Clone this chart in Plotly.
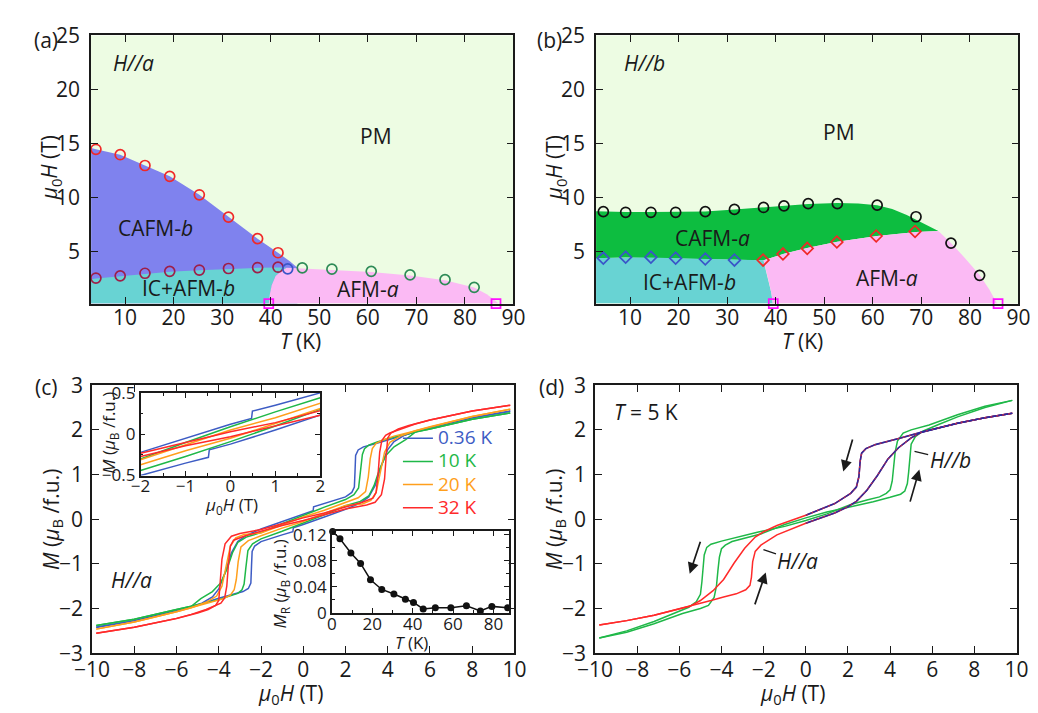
import numpy as np
import plotly.graph_objects as go

W, HGT = 1038, 713
FONT = "Open Sans"
INK = "#1a1a1a"

# ---------------- Panel (a): H//a phase diagram ----------------
a_red_T = [4.0, 9.0, 14.1, 19.2, 25.3, 31.3, 37.3, 41.5]
a_red_H = [14.47, 13.97, 12.97, 11.97, 10.26, 8.2, 6.2, 4.9]
a_low_T = [4.0, 9.0, 14.1, 19.2, 25.3, 31.3, 37.3, 41.5]
a_low_H = [2.56, 2.76, 3.0, 3.18, 3.3, 3.44, 3.53, 3.56]
a_blue_T = [43.5]
a_blue_H = [3.41]
a_green_T = [46.5, 52.6, 60.7, 68.7, 75.9, 81.9]
a_green_H = [3.5, 3.38, 3.18, 2.85, 2.41, 1.7]
a_sq_T = [39.6, 86.4]
a_sq_H = [0.2, 0.2]
# phase boundaries (a)
a_upper_T = [3.0, 4.0, 9.0, 14.1, 19.2, 25.3, 31.3, 37.3, 41.5, 44.0, 45.5]
a_upper_H = [14.6, 14.47, 13.97, 12.97, 11.97, 10.26, 8.2, 6.2, 4.9, 4.1, 3.52]
a_lower_T = [3.0, 4.0, 9.0, 14.1, 19.2, 25.3, 31.3, 37.3, 41.5, 43.3]
a_lower_H = [2.45, 2.52, 2.72, 2.95, 3.13, 3.27, 3.4, 3.5, 3.54, 3.5]
a_afmL_T = [39.6, 39.8, 40.2, 41.0, 42.2, 43.3]
a_afmL_H = [0.2, 1.0, 1.9, 2.75, 3.2, 3.5]
a_afmT_T = [43.3, 46.5, 52.6, 60.7, 68.7, 75.9, 81.9, 84.5, 86.0, 86.9]
a_afmT_H = [3.5, 3.45, 3.33, 3.12, 2.8, 2.35, 1.68, 1.05, 0.55, 0.2]

# ---------------- Panel (b): H//b phase diagram ----------------
b_blk_T = [4.5, 9.1, 14.3, 19.4, 25.5, 31.5, 37.5, 41.7, 46.7, 52.7, 60.9, 68.9, 76.1, 82.0]
b_blk_H = [8.7, 8.64, 8.64, 8.64, 8.7, 8.91, 9.09, 9.24, 9.44, 9.44, 9.3, 8.23, 5.79, 2.81]
b_bdia_T = [4.5, 9.1, 14.3, 19.4, 25.5, 31.5]
b_bdia_H = [4.4, 4.49, 4.49, 4.4, 4.32, 4.22]
b_rdia_T = [37.4, 41.5, 46.5, 52.6, 60.7, 68.7]
b_rdia_H = [4.22, 4.79, 5.3, 5.89, 6.45, 6.87]
b_sq_T = [39.5, 85.8]
b_sq_H = [0.2, 0.2]
# phase boundaries (b)
b_top_T = [3.0, 4.5, 9.1, 14.3, 19.4, 25.5, 31.5, 37.5, 41.7, 46.7, 52.7, 57.0, 60.9, 64.0, 67.0, 70.0, 73.5]
b_top_H = [8.74, 8.72, 8.68, 8.66, 8.66, 8.72, 8.9, 9.08, 9.22, 9.42, 9.5, 9.45, 9.3, 8.95, 8.4, 7.7, 6.9]
b_mid_T = [3.0, 4.5, 9.1, 14.3, 19.4, 25.5, 31.5, 37.5, 41.7, 46.7, 52.7, 60.9, 68.9, 73.5]
b_mid_H = [4.42, 4.42, 4.45, 4.45, 4.38, 4.3, 4.25, 4.2, 4.8, 5.35, 5.92, 6.45, 6.82, 6.9]
b_afmL_T = [37.5, 38.0, 38.6, 39.1, 39.4]
b_afmL_H = [4.2, 3.2, 2.2, 1.2, 0.2]
b_afmR_T = [73.5, 76.1, 79.0, 82.0, 84.0, 85.6]
b_afmR_H = [6.9, 5.8, 4.4, 2.85, 1.5, 0.2]

# ---------------- Panel (c): M(H), H//a ----------------
c_temps = ["0.36 K", "10 K", "20 K", "32 K"]
c_H_up = {
    "0.36 K": [-9.8, -8, -6, -5.3, -4.8, -4.3, -4.0, -3.7, -3.4, -3.1, -2.7, -2.0, -1.0, 0.0, 0.47, 0.49, 1.0, 2.0, 2.3, 2.42, 2.45, 2.48, 2.6, 2.85, 3.4, 4.0, 5.0, 6.0, 8.0, 9.8],
    "10 K": [-9.8, -8, -6, -5.3, -4.85, -4.3, -3.9, -3.6, -3.35, -3.1, -2.7, -2.0, -1.0, 0.0, 1.0, 2.0, 2.4, 2.62, 2.72, 2.8, 2.9, 3.1, 3.5, 4.0, 5.3, 6.0, 8.0, 9.8],
    "20 K": [-9.8, -8, -6, -5.3, -4.6, -4.1, -3.85, -3.65, -3.45, -3.2, -2.8, -2.0, -1.0, 0.0, 1.0, 2.0, 2.6, 2.95, 3.08, 3.17, 3.27, 3.45, 3.8, 4.3, 5.3, 6.0, 8.0, 9.8],
    "32 K": [-9.8, -8, -6, -5.0, -4.5, -4.15, -4.0, -3.93, -3.85, -3.7, -3.4, -3.0, -2.0, -1.0, 0.0, 1.0, 2.0, 2.8, 3.3, 3.45, 3.55, 3.62, 3.72, 3.9, 4.1, 4.6, 5.3, 6.0, 8.0, 9.8],
}
c_M_up = {
    "0.36 K": [-2.42, -2.27, -2.05, -1.96, -1.88, -1.74, -1.56, -1.2, -0.75, -0.5, -0.36, -0.22, -0.05, 0.12, 0.19, 0.28, 0.35, 0.50, 0.60, 0.72, 1.05, 1.43, 1.55, 1.62, 1.69, 1.77, 1.92, 2.05, 2.27, 2.42],
    "10 K": [-2.38, -2.24, -2.02, -1.95, -1.78, -1.62, -1.42, -1.1, -0.75, -0.52, -0.4, -0.30, -0.1, 0.09, 0.27, 0.44, 0.55, 0.7, 1.1, 1.45, 1.58, 1.66, 1.73, 1.8, 1.95, 2.02, 2.24, 2.38],
    "20 K": [-2.46, -2.3, -2.07, -1.98, -1.86, -1.72, -1.5, -1.05, -0.6, -0.42, -0.34, -0.31, -0.13, 0.05, 0.2, 0.37, 0.48, 0.62, 0.95, 1.35, 1.58, 1.70, 1.78, 1.86, 1.98, 2.07, 2.3, 2.46],
    "32 K": [-2.55, -2.42, -2.22, -2.1, -2.02, -1.93, -1.82, -1.45, -0.9, -0.55, -0.38, -0.32, -0.23, -0.1, 0.03, 0.14, 0.27, 0.38, 0.47, 0.6, 1.05, 1.5, 1.76, 1.88, 1.93, 2.02, 2.13, 2.22, 2.42, 2.55],
}
c_H_dn = {
    "0.36 K": [-9.8, -8, -6, -5.0, -4.0, -3.4, -2.85, -2.6, -2.48, -2.45, -2.42, -2.3, -2.0, -1.0, -0.49, -0.47, 0.0, 1.0, 2.0, 2.7, 3.1, 3.4, 3.7, 4.0, 4.3, 4.8, 5.3, 6.0, 8.0, 9.8],
    "10 K": [-9.8, -8, -6, -5.3, -4.0, -3.5, -3.1, -2.9, -2.8, -2.72, -2.62, -2.4, -2.0, -1.0, 0.0, 1.0, 2.0, 2.7, 3.1, 3.35, 3.6, 3.9, 4.3, 4.85, 5.3, 6.0, 8.0, 9.8],
    "20 K": [-9.8, -8, -6, -5.3, -4.3, -3.8, -3.45, -3.27, -3.17, -3.08, -2.95, -2.6, -2.0, -1.0, 0.0, 1.0, 2.0, 2.8, 3.2, 3.45, 3.65, 3.85, 4.1, 4.6, 5.3, 6.0, 8.0, 9.8],
    "32 K": [-9.8, -8, -6, -5.3, -4.6, -4.1, -3.9, -3.72, -3.62, -3.55, -3.45, -3.3, -2.8, -2.0, -1.0, 0.0, 1.0, 2.0, 3.0, 3.4, 3.7, 3.85, 3.93, 4.0, 4.15, 4.5, 5.0, 6.0, 8.0, 9.8],
}
c_M_dn = {
    "0.36 K": [-2.42, -2.27, -2.05, -1.92, -1.77, -1.69, -1.62, -1.55, -1.43, -1.05, -0.72, -0.60, -0.50, -0.35, -0.28, -0.19, -0.12, 0.05, 0.22, 0.36, 0.50, 0.75, 1.20, 1.56, 1.74, 1.88, 1.96, 2.05, 2.27, 2.42],
    "10 K": [-2.38, -2.24, -2.02, -1.95, -1.8, -1.73, -1.66, -1.58, -1.45, -1.1, -0.7, -0.55, -0.44, -0.27, -0.09, 0.1, 0.30, 0.4, 0.52, 0.75, 1.1, 1.42, 1.62, 1.78, 1.95, 2.02, 2.24, 2.38],
    "20 K": [-2.46, -2.3, -2.07, -1.98, -1.86, -1.78, -1.70, -1.58, -1.35, -0.95, -0.62, -0.48, -0.37, -0.2, -0.05, 0.13, 0.31, 0.34, 0.42, 0.6, 1.05, 1.5, 1.72, 1.86, 1.98, 2.07, 2.3, 2.46],
    "32 K": [-2.55, -2.42, -2.22, -2.13, -2.02, -1.93, -1.88, -1.76, -1.5, -1.05, -0.6, -0.47, -0.38, -0.27, -0.14, -0.03, 0.1, 0.23, 0.32, 0.38, 0.55, 0.9, 1.45, 1.82, 1.93, 2.02, 2.1, 2.22, 2.42, 2.55],
}
# remanent magnetization (inset of c)
mr_T = [0.36, 4.0, 9.4, 14.2, 19.1, 24.7, 30.7, 36.4, 40.4, 45.2, 51.2, 58.9, 66.6, 73.5, 79.2, 87.0]
mr_M = [0.125, 0.114, 0.092, 0.076, 0.051, 0.036, 0.029, 0.021, 0.016, 0.006, 0.008, 0.008, 0.011, 0.003, 0.01, 0.008]

# ---------------- Panel (d): T = 5 K ----------------
d_a1_H = [-9.8, -8.5, -7.2, -5.5, -5.0, -4.4, -3.9, -3.4, -2.9, -2.4, -2.0, -1.37, 0.0, 1.37, 2.13, 2.4, 2.52, 2.58, 2.65, 2.85, 3.3, 3.9, 4.5, 5.5, 7.2, 8.5, 9.8]
d_a1_M = [-2.37, -2.27, -2.15, -1.95, -1.82, -1.6, -1.35, -0.98, -0.65, -0.4, -0.28, -0.14, 0.09, 0.35, 0.58, 0.72, 0.95, 1.3, 1.48, 1.58, 1.67, 1.74, 1.82, 1.95, 2.15, 2.27, 2.37]
d_a2_H = [-9.8, -8.5, -7.2, -5.5, -4.5, -3.9, -3.3, -2.85, -2.65, -2.58, -2.52, -2.4, -2.13, -1.37, 0.0, 1.37, 2.0, 2.4, 2.9, 3.4, 3.9, 4.4, 5.0, 5.5, 7.2, 8.5, 9.8]
d_a2_M = [-2.37, -2.27, -2.15, -1.95, -1.82, -1.74, -1.67, -1.58, -1.48, -1.3, -0.95, -0.72, -0.58, -0.35, -0.09, 0.14, 0.28, 0.4, 0.65, 0.98, 1.35, 1.6, 1.82, 1.95, 2.15, 2.27, 2.37]
d_b1_H = [-9.8, -8.5, -7.2, -6.3, -5.55, -5.2, -5.0, -4.93, -4.88, -4.82, -4.7, -4.5, -4.0, -3.2, -2.3, -1.0, 0.0, 1.0, 2.14, 2.9, 3.5, 3.82, 4.0, 4.1, 4.17, 4.24, 4.35, 4.62, 5.0, 5.85, 7.2, 8.5, 9.8]
d_b1_M = [-2.66, -2.5, -2.29, -2.12, -1.97, -1.85, -1.68, -1.4, -1.05, -0.8, -0.63, -0.56, -0.49, -0.39, -0.29, -0.16, -0.03, 0.12, 0.33, 0.43, 0.5, 0.58, 0.66, 0.85, 1.15, 1.5, 1.75, 1.93, 2.0, 2.11, 2.34, 2.53, 2.66]
d_b2_H = [-9.8, -8.5, -7.2, -5.85, -5.0, -4.62, -4.35, -4.24, -4.17, -4.1, -4.0, -3.82, -3.5, -2.9, -2.14, -1.0, 0.0, 1.0, 2.3, 3.2, 4.0, 4.5, 4.7, 4.82, 4.88, 4.93, 5.0, 5.2, 5.55, 6.3, 7.2, 8.5, 9.8]
d_b2_M = [-2.66, -2.53, -2.34, -2.11, -2.0, -1.93, -1.75, -1.5, -1.15, -0.85, -0.66, -0.58, -0.5, -0.43, -0.33, -0.12, 0.03, 0.16, 0.29, 0.39, 0.49, 0.56, 0.63, 0.8, 1.05, 1.4, 1.68, 1.85, 1.97, 2.12, 2.29, 2.5, 2.66]

# ---------------- styles ----------------
C_PM, C_CAFMB, C_IC, C_AFMA, C_CAFMA = "#EDFCE3", "#7F82EE", "#68D3D3", "#FBBAF4", "#0DBD40"
c_colors = {"0.36 K": "#3D5CC4", "10 K": "#1FB848", "20 K": "#FF9F1C", "32 K": "#FF2A2A"}
D_RED, D_GREEN, D_BLUE = "#FF2A2A", "#1FB848", "#2A2A9E"

T_MIN, T_MAX, H_MIN, H_MAX = 3.0, 90.0, 0.2, 25.0

fig = go.Figure()

def poly(x, y, color, xa, ya):
    fig.add_trace(go.Scatter(x=x, y=y, mode="lines", fill="toself", fillcolor=color,
                             line=dict(width=0, color=color), hoverinfo="skip",
                             showlegend=False, xaxis=xa, yaxis=ya))

def marks(x, y, sym, color, size, xa, ya, lw=1.7):
    fig.add_trace(go.Scatter(x=x, y=y, mode="markers", cliponaxis=False,
                             marker=dict(symbol=sym, size=size, color=color, line=dict(width=lw, color=color)),
                             showlegend=False, hoverinfo="skip", xaxis=xa, yaxis=ya))

# panel (a) regions
poly([T_MIN] + a_upper_T + [a_upper_T[-1]], [H_MIN] + a_upper_H + [H_MIN], C_CAFMB, "x", "y")
poly([T_MIN] + a_lower_T + a_afmL_T[::-1], [H_MIN] + a_lower_H + a_afmL_H[::-1], C_IC, "x", "y")
poly(a_afmL_T + a_afmT_T[1:], a_afmL_H + a_afmT_H[1:], C_AFMA, "x", "y")
marks(a_red_T, a_red_H, "circle-open", "#F02828", 10, "x", "y")
marks(a_low_T, a_low_H, "circle-open", "#9E1E48", 10, "x", "y")
marks(a_blue_T, a_blue_H, "circle-open", "#3A55C8", 10, "x", "y")
marks(a_green_T, a_green_H, "circle-open", "#2E8B57", 10, "x", "y")
marks(a_sq_T, a_sq_H, "square-open", "#FF10FF", 9, "x", "y")

# panel (b) regions
bT = np.array(b_mid_T); bH = np.array(b_mid_H)
left = bT <= 37.5
right = bT >= 37.5
poly(b_top_T + b_mid_T[::-1], b_top_H + b_mid_H[::-1], C_CAFMA, "x2", "y2")
poly([T_MIN] + list(bT[left]) + b_afmL_T[1:], [H_MIN] + list(bH[left]) + b_afmL_H[1:], C_IC, "x2", "y2")
poly(b_afmL_T[::-1] + list(bT[right])[1:] + b_afmR_T[1:], b_afmL_H[::-1] + list(bH[right])[1:] + b_afmR_H[1:], C_AFMA, "x2", "y2")
marks(b_blk_T, b_blk_H, "circle-open", "#111111", 10, "x2", "y2")
marks(b_bdia_T, b_bdia_H, "diamond-open", "#3A55C8", 9, "x2", "y2")
marks(b_rdia_T, b_rdia_H, "diamond-open", "#F02828", 9, "x2", "y2")
marks(b_sq_T, b_sq_H, "square-open", "#FF10FF", 9, "x2", "y2")

# panel (c) curves + inset 1
for t in c_temps:
    col = c_colors[t]
    for xa, ya in (("x3", "y3"), ("x5", "y5")):
        fig.add_trace(go.Scatter(x=c_H_dn[t], y=c_M_dn[t], mode="lines", line=dict(color=col, width=1.5),
                                 showlegend=False, hoverinfo="skip", xaxis=xa, yaxis=ya))
        fig.add_trace(go.Scatter(x=c_H_up[t], y=c_M_up[t], mode="lines", line=dict(color=col, width=1.5),
                                 name=f'<span style="color:{col};font-size:19px">{t}</span>',
                                 showlegend=(xa == "x3"), hoverinfo="skip", xaxis=xa, yaxis=ya))
# inset 2
fig.add_trace(go.Scatter(x=mr_T, y=mr_M, mode="lines+markers", cliponaxis=False,
                         line=dict(color="#111111", width=1.5), marker=dict(color="#111111", size=7),
                         showlegend=False, hoverinfo="skip", xaxis="x6", yaxis="y6"))

# panel (d)
for hh, mm, col in ((d_b1_H, d_b1_M, D_GREEN), (d_b2_H, d_b2_M, D_GREEN), (d_a1_H, d_a1_M, D_RED), (d_a2_H, d_a2_M, D_RED)):
    fig.add_trace(go.Scatter(x=hh, y=mm, mode="lines", line=dict(color=col, width=1.5),
                             showlegend=False, hoverinfo="skip", xaxis="x4", yaxis="y4"))
for hh, mm in ((d_a1_H, d_a1_M), (d_a2_H, d_a2_M)):
    h = np.array(hh); m = np.array(mm); k = h >= 0
    fig.add_trace(go.Scatter(x=h[k], y=m[k], mode="lines", line=dict(color=D_BLUE, width=1.6),
                             showlegend=False, hoverinfo="skip", xaxis="x4", yaxis="y4"))
    fig.add_trace(go.Scatter(x=h[k], y=m[k], mode="lines", line=dict(color=D_RED, width=0.8, dash="2px,4px"),
                             showlegend=False, hoverinfo="skip", xaxis="x4", yaxis="y4"))

# ---------------- axes ----------------
def xd(a, b):
    return [a / W, b / W]

def yd(top, bot):
    return [1 - bot / HGT, 1 - top / HGT]

def ax(domain, rng, dtick, anchor, size=21, ticklen=7, minor=None, standoff=4):
    d = dict(domain=domain, range=rng, dtick=dtick, tick0=0, anchor=anchor, showline=True,
             linecolor=INK, linewidth=1.5, mirror="ticks", ticks="inside", ticklen=ticklen,
             tickwidth=1.3, tickcolor=INK, showgrid=False, zeroline=False,
             tickfont=dict(family=FONT, size=size, color=INK), ticklabelstandoff=standoff)
    if minor:
        d["minor"] = dict(dtick=minor, ticks="inside", ticklen=ticklen - 2, tickcolor=INK, tickwidth=1.1, showgrid=False)
    return d

layout = dict(
    width=W, height=HGT, margin=dict(l=0, r=0, t=0, b=0),
    paper_bgcolor="white", plot_bgcolor="white",
    font=dict(family=FONT, color=INK),
    xaxis=ax(xd(67, 502), [T_MIN, T_MAX], 10, "y", standoff=-5),
    yaxis=ax(yd(13, 292), [H_MIN, H_MAX], 5, "x", standoff=5),
    xaxis2=ax(xd(587, 1022), [T_MIN, T_MAX], 10, "y2", standoff=-5),
    yaxis2=ax(yd(13, 292), [H_MIN, H_MAX], 5, "x2", standoff=5),
    xaxis3=ax(xd(68, 503), [-10, 10], 2, "y3", standoff=-3),
    yaxis3=ax(yd(377, 656), [-3, 3], 1, "x3", standoff=3),
    xaxis4=ax(xd(586, 1020), [-10, 10], 2, "y4", standoff=-3),
    yaxis4=ax(yd(377, 656), [-3, 3], 1, "x4", standoff=3),
    xaxis5=ax(xd(118, 303), [-2, 2], 1, "y5", size=17, ticklen=5, minor=0.5, standoff=-6),
    yaxis5=ax(yd(385, 471), [-0.5, 0.5], 0.5, "x5", size=17, ticklen=5, minor=0.25, standoff=0),
    xaxis6=ax(xd(315, 497), [0, 87.5], 20, "y6", size=17, ticklen=5, minor=10, standoff=-5),
    yaxis6=ax(yd(529, 614), [0, 0.1255], 0.04, "x6", size=17, ticklen=5, minor=0.02, standoff=0),
    legend=dict(x=383 / W, y=1 - 415 / HGT, xanchor="left", yanchor="top", bgcolor="rgba(0,0,0,0)",
                font=dict(family=FONT, size=15.5), tracegroupgap=0, itemwidth=30),
    showlegend=True,
)
layout["yaxis6"]["tickformat"] = ".2~f"
fig.update_layout(**layout)

# PM background for (a) and (b)
for xr, yr in (("x", "y"), ("x2", "y2")):
    fig.add_shape(type="rect", xref=f"{xr} domain", yref=f"{yr} domain", x0=0, x1=1, y0=0, y1=1,
                  fillcolor=C_PM, line=dict(width=0), layer="below")

# ---------------- text ----------------
ann = []

def ptxt(text, px, py, size=21, angle=0, xanchor="center"):
    ann.append(dict(text=text, x=px / W, y=1 - py / HGT, xref="paper", yref="paper", showarrow=False,
                    font=dict(family=FONT, size=size, color=INK), textangle=angle,
                    xanchor=xanchor, yanchor="middle"))

def dtxt(text, x, y, xa, ya, size=21):
    ann.append(dict(text=text, x=x, y=y, xref=xa, yref=ya, showarrow=False,
                    font=dict(family=FONT, size=size, color=INK), xanchor="center", yanchor="middle"))

ptxt("(a)", 6, 18, xanchor="left")
ptxt("(b)", 524, 18, xanchor="left")
ptxt("(c)", 7, 379, xanchor="left")
ptxt("(d)", 526, 379, xanchor="left")

TH = "<i>μ</i><sub>0</sub><i>H</i> (T)"
MY = "<i>M</i> (<i>μ</i><sub>B</sub> /f.u.)"
ptxt(TH, 25, 151, angle=-90)
ptxt("<i>T</i> (K)", 283, 331)
ptxt(TH, 545, 151, angle=-90)
ptxt("<i>T</i> (K)", 800, 331)
ptxt(MY, 26, 517, angle=-90)
ptxt(TH, 272, 698)
ptxt(MY, 544, 517, angle=-90)
ptxt(TH, 789, 698)
ptxt(MY, 86, 427, size=17, angle=-90)
ptxt(TH, 212, 502, size=17)
ptxt("<i>M</i><sub>R</sub> (<i>μ</i><sub>B</sub> /f.u.)", 262, 584, size=17, angle=-90)
ptxt("<i>T</i> (K)", 397, 645, size=17)

dtxt("<i>H//a</i>", 11.7, 22.5, "x", "y")
dtxt("PM", 61.7, 15.7, "x", "y")
dtxt("CAFM-<i>b</i>", 16.3, 7.2, "x", "y")
dtxt("IC+AFM-<i>b</i>", 23.0, 1.6, "x", "y")
dtxt("AFM-<i>a</i>", 60.0, 1.55, "x", "y")
dtxt("<i>H//b</i>", 13.0, 22.5, "x2", "y2")
dtxt("PM", 53.0, 16.1, "x2", "y2")
dtxt("CAFM-<i>a</i>", 27.0, 6.27, "x2", "y2")
dtxt("IC+AFM-<i>b</i>", 22.3, 2.2, "x2", "y2")
dtxt("AFM-<i>a</i>", 63.0, 2.6, "x2", "y2")
dtxt("<i>H//a</i>", -8.14, -1.37, "x3", "y3")
dtxt("<i>T</i> = 5 K", -7.6, 2.4, "x4", "y4")

# arrows in (d)
for (hx, hy, tx, ty) in ((-5.51, -1.22, -4.98, -0.47), (-1.9, -1.19, -2.44, -1.94),
                         (1.78, 1.07, 2.24, 1.82), (5.39, 1.11, 4.93, 0.36)):
    ann.append(dict(x=hx, y=hy, ax=tx, ay=ty, xref="x4", yref="y4", axref="x4", ayref="y4",
                    showarrow=True, arrowhead=2, arrowsize=1.3, arrowwidth=1.7, arrowcolor=INK, text=""))
# leader labels in (d)
for (txt, px_, py_, tx, ty) in (("<i>H//b</i>", 5.16, 1.52, 6.85, 1.32), ("<i>H//a</i>", -2.01, -0.68, -0.37, -0.94)):
    ann.append(dict(x=px_, y=py_, ax=tx, ay=ty, xref="x4", yref="y4", axref="x4", ayref="y4",
                    showarrow=True, arrowhead=0, arrowwidth=1.3, arrowcolor=INK, text=txt,
                    font=dict(family=FONT, size=21, color=INK), standoff=0))

fig.update_layout(annotations=ann)
fig.write_html("out.html")
